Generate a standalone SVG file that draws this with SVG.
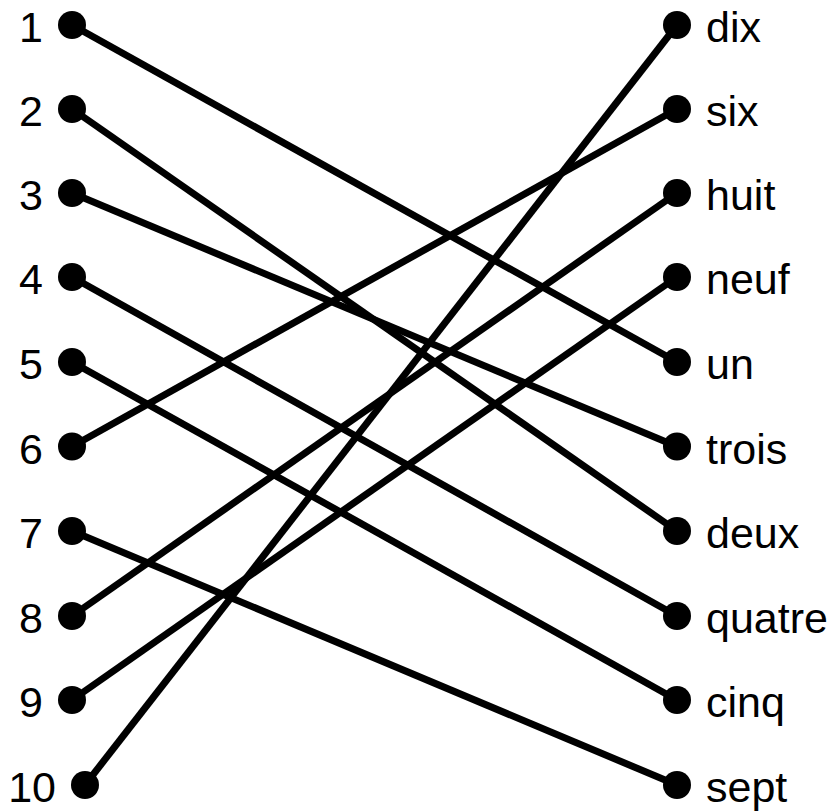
<svg xmlns="http://www.w3.org/2000/svg" width="837" height="811" viewBox="0 0 837 811">
<style>
.lbl{font-family:"Liberation Sans",Arial,sans-serif;font-size:43px;fill:#000}
.l{text-anchor:end}
.c{stroke:#000;stroke-width:7;fill:none}
.d{fill:#000}
</style>
<rect width="837" height="811" fill="#fff"/>
<g id="connectors">
<line class="c" x1="72" y1="25" x2="677" y2="362"/>
<line class="c" x1="72" y1="109" x2="677" y2="531"/>
<line class="c" x1="72" y1="193" x2="677" y2="446.5"/>
<line class="c" x1="72" y1="277" x2="677" y2="616"/>
<line class="c" x1="72" y1="362" x2="677" y2="700"/>
<line class="c" x1="72" y1="446.5" x2="677" y2="109"/>
<line class="c" x1="72" y1="531" x2="677" y2="785"/>
<line class="c" x1="72" y1="616" x2="677" y2="193"/>
<line class="c" x1="72" y1="700" x2="677" y2="277"/>
<line class="c" x1="85" y1="785" x2="677" y2="25"/>
</g>
<g id="n1"><circle class="d" cx="72" cy="25" r="14"/><text class="lbl l" x="43" y="42">1</text></g>
<g id="n2"><circle class="d" cx="72" cy="109" r="14"/><text class="lbl l" x="43" y="126">2</text></g>
<g id="n3"><circle class="d" cx="72" cy="193" r="14"/><text class="lbl l" x="43" y="210">3</text></g>
<g id="n4"><circle class="d" cx="72" cy="277" r="14"/><text class="lbl l" x="43" y="294">4</text></g>
<g id="n5"><circle class="d" cx="72" cy="362" r="14"/><text class="lbl l" x="43" y="379">5</text></g>
<g id="n6"><circle class="d" cx="72" cy="446.5" r="14"/><text class="lbl l" x="43" y="463.5">6</text></g>
<g id="n7"><circle class="d" cx="72" cy="531" r="14"/><text class="lbl l" x="43" y="548">7</text></g>
<g id="n8"><circle class="d" cx="72" cy="616" r="14"/><text class="lbl l" x="43" y="633">8</text></g>
<g id="n9"><circle class="d" cx="72" cy="700" r="14"/><text class="lbl l" x="43" y="717">9</text></g>
<g id="n10"><circle class="d" cx="85" cy="785" r="14"/><text class="lbl l" x="56" y="802">10</text></g>
<g id="dix"><circle class="d" cx="677" cy="25" r="14"/><text class="lbl" x="706" y="42">dix</text></g>
<g id="six"><circle class="d" cx="677" cy="109" r="14"/><text class="lbl" x="706" y="126">six</text></g>
<g id="huit"><circle class="d" cx="677" cy="193" r="14"/><text class="lbl" x="706" y="210">huit</text></g>
<g id="neuf"><circle class="d" cx="677" cy="277" r="14"/><text class="lbl" x="706" y="294">neuf</text></g>
<g id="un"><circle class="d" cx="677" cy="362" r="14"/><text class="lbl" x="706" y="379">un</text></g>
<g id="trois"><circle class="d" cx="677" cy="446.5" r="14"/><text class="lbl" x="706" y="463.5">trois</text></g>
<g id="deux"><circle class="d" cx="677" cy="531" r="14"/><text class="lbl" x="706" y="548">deux</text></g>
<g id="quatre"><circle class="d" cx="677" cy="616" r="14"/><text class="lbl" x="706" y="633">quatre</text></g>
<g id="cinq"><circle class="d" cx="677" cy="700" r="14"/><text class="lbl" x="706" y="717">cinq</text></g>
<g id="sept"><circle class="d" cx="677" cy="785" r="14"/><text class="lbl" x="706" y="802">sept</text></g>
</svg>
